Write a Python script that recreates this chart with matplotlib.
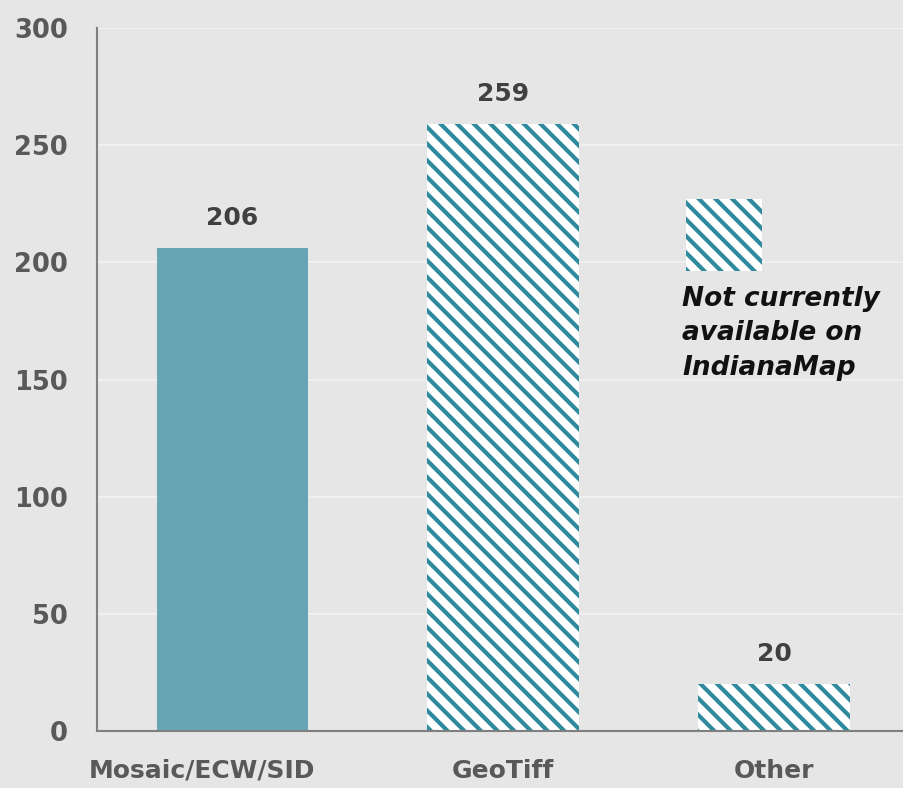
import matplotlib
matplotlib.use("Agg")
import matplotlib.pyplot as plt
from matplotlib.patches import Rectangle
from matplotlib.transforms import ScaledTranslation

categories = ["Mosaic/ECW/SID", "GeoTiff", "Other"]
counts = [206, 259, 20]
hatched = [False, True, True]
y_ticks = [0, 50, 100, 150, 200, 250, 300]
note_text = "Not currently\navailable on\nIndianaMap"

BG = "#e6e6e6"
SOLID = "#67a5b4"
STRIPE = "#2e8a9c"
TICK_GRAY = "#595959"

plt.rcParams["hatch.linewidth"] = 3.0
plt.rcParams["hatch.color"] = STRIPE

fig = plt.figure(figsize=(9.04, 7.88), dpi=100, facecolor=BG)
ax = fig.add_axes([0.1073, 0.0723, 0.8927, 0.892])
ax.set_facecolor(BG)

x = list(range(len(categories)))
for xi, val, h in zip(x, counts, hatched):
    if h:
        ax.bar(xi, val, width=0.56, color="white", hatch="\\\\", edgecolor=STRIPE,
               linewidth=0, zorder=3)
    else:
        ax.bar(xi, val, width=0.56, color=SOLID, linewidth=0, zorder=3)
    ax.annotate(str(val), (xi, val), xytext=(0, 13), textcoords="offset points",
                ha="center", va="bottom", fontsize=18, fontweight="bold", color="#404040")

# legend-like swatch with note
ax.add_patch(Rectangle((1.675, 196.3), 0.281, 30.7, facecolor="white", hatch="\\\\",
                       edgecolor=STRIPE, linewidth=0, zorder=3))
ax.text(1.66, 190, note_text, ha="left", va="top", fontsize=19, fontweight="bold",
        fontstyle="italic", color="#111111", linespacing=1.42)

ax.set_xlim(-0.5, 2.48)
ax.set_ylim(0, 300)
ax.set_yticks(y_ticks)
ax.set_xticks(x)
ax.set_xticklabels(categories)
ax.tick_params(axis="y", length=0, labelsize=18.5, labelcolor=TICK_GRAY, pad=21)
ax.tick_params(axis="x", length=0, labelsize=18, labelcolor=TICK_GRAY, pad=20)
for lab in ax.get_xticklabels() + ax.get_yticklabels():
    lab.set_fontweight("bold")
# first category label sits a bit left of its bar in the original
first = ax.get_xticklabels()[0]
first.set_transform(first.get_transform() + ScaledTranslation(-0.3, 0, fig.dpi_scale_trans))

ax.yaxis.grid(True, color="#f0f0f0", linewidth=1.5, zorder=0)
ax.set_axisbelow(True)
for side in ["top", "right"]:
    ax.spines[side].set_visible(False)
for side in ["left", "bottom"]:
    ax.spines[side].set_color("#7f7f7f")
    ax.spines[side].set_linewidth(1.5)
    ax.spines[side].set_zorder(4)

fig.savefig("out.png", dpi=100, facecolor=BG)
